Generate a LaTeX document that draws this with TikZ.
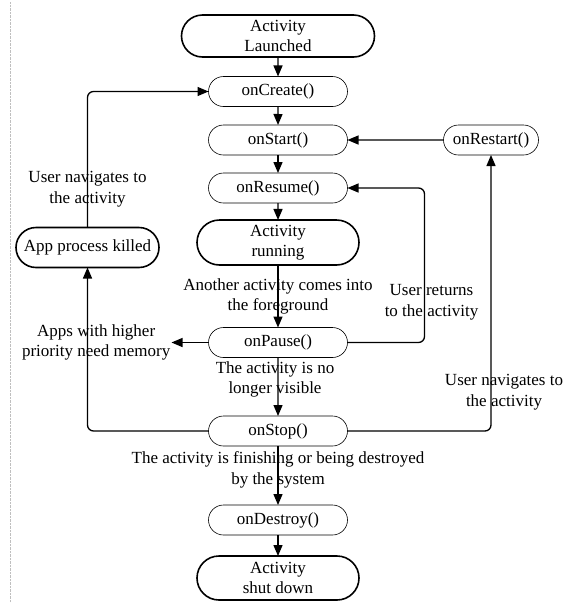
\documentclass[tikz,border=0pt]{standalone}
\usepackage{fontspec}
\setmainfont{Liberation Serif}
\usetikzlibrary{positioning,arrows.meta,shapes.misc}
\tikzset{
  lc-state/.style={
    rounded rectangle, draw=black, line width=0.6pt,
    minimum width=143pt, minimum height=30pt, inner sep=2pt, outer sep=0pt,
    align=center, font=\fontsize{17}{20.5}\selectfont
  },
  lc-term/.style={lc-state, line width=1.6pt, minimum height=44pt},
  lc-flow/.style={-{Triangle[length=11pt,width=9pt]}, line width=1.3pt,
    rounded corners=6pt},
  lc-label/.style={align=center, inner sep=1pt,
    font=\fontsize{17}{20.5}\selectfont}
}

\begin{document}
\begin{tikzpicture}[node distance=19pt]
\useasboundingbox (0pt,0pt) rectangle (579pt,-603pt);
\draw[gray!50, densely dotted, line width=0.4pt] (10pt,-2pt) -- (10pt,-603pt);

% --- main column ---
\node[lc-term, minimum width=197pt, minimum height=42pt]
  (launched) at (278pt,-36pt) {Activity\\Launched};
\node[lc-state, below=19.5pt of launched] (create) {onCreate()};
\node[lc-state, below=18.5pt of create] (start) {onStart()};
\node[lc-state, below=18pt of start] (resume) {onResume()};
\node[lc-term, minimum width=166pt, minimum height=45pt, below=17pt of resume]
  (running) {Activity\\running};
\node[lc-state, below=62.5pt of running] (pause) {onPause()};
\node[lc-state, below=58.5pt of pause] (stop) {onStop()};
\node[lc-state, below=59pt of stop] (destroy) {onDestroy()};
\node[lc-term, minimum width=166pt, below=21pt of destroy]
  (shutdown) {Activity\\shut down};

% --- side nodes ---
\node[lc-state, minimum width=99pt, right=96pt of start] (restart) {onRestart()};
\node[lc-term, minimum width=147pt, minimum height=40pt,
  left=38pt of running, yshift=-5pt] (killed) {App process killed};
\node[lc-label, left=37pt of pause] (memory) {Apps with higher\\priority need memory};

% --- flows ---
\draw[lc-flow] (launched) -- (create);
\draw[lc-flow] (create) -- (start);
\draw[lc-flow] (start) -- (resume);
\draw[lc-flow] (resume) -- (running);
\draw[lc-flow] (running) -- node[lc-label]
  {Another activity comes into\\the foreground} (pause);
\draw[lc-flow] (pause) -- node[lc-label, xshift=-3pt, yshift=7.5pt]
  {The activity is no\\longer visible} (stop);
\draw[lc-flow] (stop) -- node[lc-label, yshift=5.5pt]
  {The activity is finishing or being destroyed\\by the system} (destroy);
\draw[lc-flow] (destroy) -- (shutdown);
\draw[lc-flow] (restart) -- (start);
\draw[lc-flow] (pause.east) -- ++(77pt,0) |- node[lc-label, pos=0.13, xshift=7pt]
  {User returns\\to the activity} (resume.east);
\draw[lc-flow] (stop.east) -| node[lc-label, pos=0.57, xshift=13pt]
  {User navigates to\\the activity} (restart.south);
\draw[lc-flow] (stop.west) -| (killed.south);
\draw[lc-flow] (killed.north) |- node[lc-label, pos=0.14]
  {User navigates to\\the activity} (create.west);
\draw[lc-flow] (pause.west) -- (memory.east);
\end{tikzpicture}
\end{document}
